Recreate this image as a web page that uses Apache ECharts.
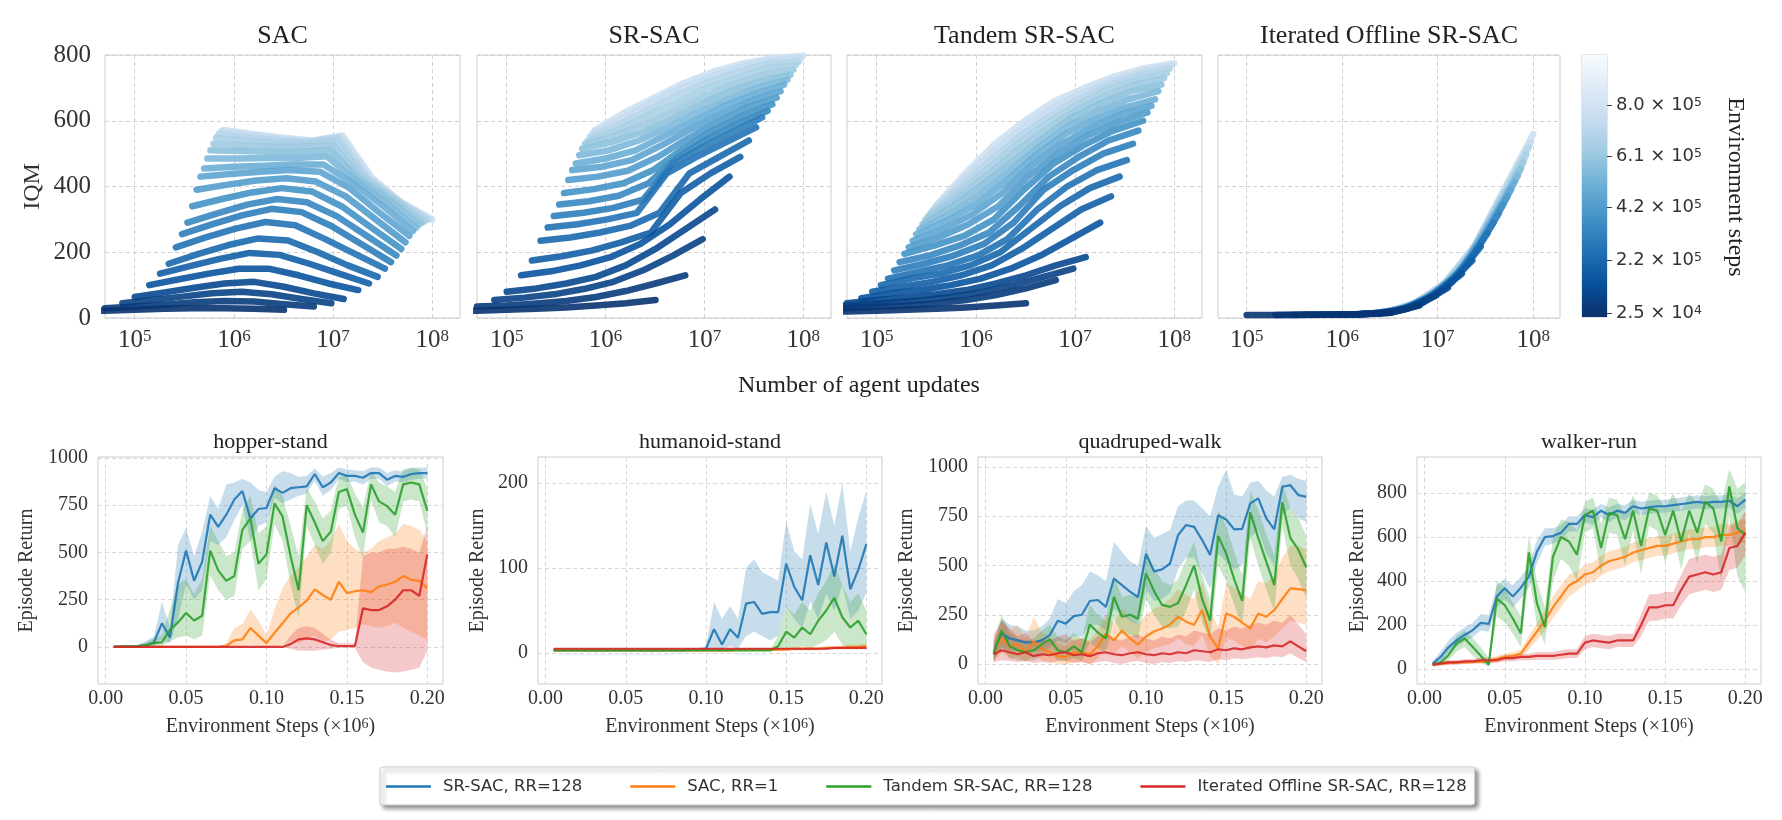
<!DOCTYPE html>
<html><head><meta charset="utf-8">
<script src="https://cdn.jsdelivr.net/npm/echarts@6/dist/echarts.min.js"></script>
<style>html,body{margin:0;padding:0;background:#fff}#c{width:1782px;height:820px}</style>
</head><body><div id="c"></div>
<script>
// ---------------- DATA ----------------
const panelTitles = ['SAC', 'SR-SAC', 'Tandem SR-SAC', 'Iterated Offline SR-SAC'];
const updateTicks = [5, 6, 7, 8];             // log10 of number of agent updates
const envStepLevels = [25000, 50000, 75000, 100000, 140000, 180000, 220000, 260000, 300000, 340000, 380000, 420000, 460000, 500000, 540000, 580000, 620000, 660000, 700000, 740000, 780000];
const rrSAC = [1, 2, 4, 8, 16, 32, 64, 128];
const rrSRSAC = [1, 2, 4, 8, 16, 32, 64, 128];
const rrTandem = [0.5, 1, 2, 4, 8, 16, 32, 64, 128];
const rrIterated = [4, 8, 16, 32, 64, 128];
const colorbarTicks = [25000, 220000, 420000, 610000, 800000];

const iqmSAC = [
  [20, 22, 25, 28, 30, 30, 28, 25],
  [30, 35, 40, 48, 52, 50, 42, 35],
  [45, 55, 65, 75, 80, 72, 58, 45],
  [64, 78, 92, 105, 110, 95, 75, 58],
  [100, 118, 135, 150, 150, 130, 105, 85],
  [135, 158, 180, 198, 192, 165, 135, 105],
  [165, 195, 222, 242, 236, 200, 160, 125],
  [215, 245, 272, 292, 282, 240, 195, 150],
  [255, 285, 312, 332, 322, 280, 225, 170],
  [290, 318, 345, 362, 352, 310, 250, 190],
  [340, 362, 382, 395, 385, 340, 275, 210],
  [390, 405, 418, 425, 415, 370, 300, 230],
  [430, 438, 445, 450, 445, 395, 320, 250],
  [455, 460, 463, 467, 467, 410, 340, 265],
  [485, 485, 487, 487, 492, 415, 350, 275],
  [510, 508, 506, 506, 512, 420, 360, 285],
  [530, 525, 522, 522, 528, 420, 362, 290],
  [548, 540, 533, 532, 542, 425, 360, 295],
  [560, 550, 541, 536, 549, 425, 358, 300],
  [567, 556, 546, 538, 552, 425, 354, 300],
  [572, 560, 548, 540, 555, 425, 350, 300]
];
const iqmSRSAC = [
  [20, 22, 25, 28, 32, 38, 45, 55],
  [35, 38, 44, 52, 64, 82, 105, 130],
  [55, 62, 72, 88, 110, 145, 190, 240],
  [80, 90, 105, 125, 160, 210, 270, 330],
  [130, 142, 160, 185, 225, 285, 360, 430],
  [175, 188, 205, 230, 260, 380, 440, 490],
  [235, 245, 260, 280, 320, 440, 490, 540],
  [275, 285, 300, 320, 440, 490, 535, 580],
  [310, 320, 335, 360, 470, 520, 565, 610],
  [345, 355, 372, 410, 490, 545, 590, 630],
  [380, 392, 410, 450, 515, 570, 615, 650],
  [420, 430, 448, 490, 545, 595, 640, 670],
  [450, 460, 480, 525, 575, 620, 660, 690],
  [470, 485, 510, 555, 600, 645, 680, 710],
  [495, 510, 540, 580, 625, 665, 700, 725],
  [515, 535, 565, 605, 650, 690, 720, 740],
  [530, 555, 590, 630, 675, 710, 740, 755],
  [540, 572, 615, 655, 700, 730, 760, 770],
  [552, 590, 635, 680, 720, 750, 775, 780],
  [562, 608, 655, 700, 735, 765, 785, 790],
  [572, 625, 670, 715, 750, 775, 790, 798]
];
const iqmTandem = [
  [15, 18, 20, 22, 25, 28, 32, 38, 45],
  [25, 30, 34, 38, 45, 55, 70, 90, 115],
  [35, 42, 48, 55, 65, 80, 100, 125, 150],
  [45, 55, 62, 72, 85, 105, 130, 160, 185],
  [60, 75, 85, 100, 120, 150, 190, 240, 290],
  [80, 95, 110, 130, 160, 210, 270, 330, 370],
  [100, 120, 135, 160, 200, 270, 340, 395, 430],
  [120, 140, 160, 190, 240, 330, 400, 450, 480],
  [145, 165, 190, 225, 290, 390, 450, 500, 530],
  [170, 190, 220, 260, 340, 430, 490, 540, 570],
  [195, 220, 250, 300, 390, 470, 525, 570, 600],
  [215, 245, 285, 340, 430, 500, 555, 595, 625],
  [235, 270, 315, 380, 465, 530, 580, 620, 645],
  [255, 295, 345, 415, 495, 560, 605, 640, 665],
  [270, 315, 375, 445, 520, 585, 630, 665, 690],
  [285, 340, 405, 475, 545, 610, 655, 690, 710],
  [300, 360, 430, 505, 570, 630, 675, 710, 730],
  [310, 380, 455, 530, 595, 650, 695, 725, 745],
  [320, 400, 480, 555, 615, 668, 710, 740, 758],
  [330, 420, 505, 578, 638, 685, 722, 750, 768],
  [340, 440, 530, 600, 660, 700, 735, 760, 775]
];
const iqmIterated = [
  [9, 9, 10, 10, 12, 16],
  [9, 10, 10, 12, 16, 38],
  [9, 10, 11, 14, 28, 68],
  [10, 10, 12, 16, 40, 92],
  [10, 11, 13, 26, 66, 135],
  [10, 11, 16, 37, 87, 175],
  [10, 12, 19, 49, 108, 217],
  [10, 13, 24, 65, 131, 258],
  [11, 15, 30, 74, 154, 290],
  [11, 16, 35, 85, 173, 318],
  [12, 17, 42, 98, 196, 346],
  [12, 19, 48, 109, 216, 369],
  [13, 22, 55, 121, 241, 391],
  [14, 25, 64, 133, 267, 414],
  [14, 27, 71, 143, 285, 433],
  [15, 31, 77, 153, 304, 454],
  [15, 35, 84, 172, 323, 475],
  [16, 38, 91, 186, 342, 496],
  [17, 44, 99, 201, 361, 519],
  [19, 46, 106, 213, 375, 536],
  [20, 50, 113, 226, 395, 560]
];

// bottom row
const envSteps = [0.005,0.01,0.015,0.02,0.025,0.03,0.035,0.04,0.045,0.05,0.055,0.06,0.065,0.07,0.075,0.08,0.085,0.09,0.095,0.1,0.105,0.11,0.115,0.12,0.125,0.13,0.135,0.14,0.145,0.15,0.155,0.16,0.165,0.17,0.175,0.18,0.185,0.19,0.195,0.2];
const stepTicks = [0, 0.05, 0.1, 0.15, 0.2];
const methodNames = ['SR-SAC, RR=128', 'SAC, RR=1', 'Tandem SR-SAC, RR=128', 'Iterated Offline SR-SAC, RR=128'];
const methodColors = ['#1f77b4', '#ff7f0e', '#2ca02c', '#d62728'];

const hopperSR     = [2,3,3,4,8,25,125,50,340,510, 350,450,700,635,700,780,825,680,730,735, 840,815,840,845,850,915,845,870,920,905, 905,895,920,920,885,905,900,915,920,920];
const hopperSRLo   = [0,0,0,0,0,5,40,20,150,330, 250,300,560,540,580,670,750,560,640,660, 790,760,780,800,810,880,800,830,890,870, 875,860,890,890,850,875,870,885,890,890];
const hopperSRHi   = [5,5,5,8,30,55,240,100,540,630, 480,610,800,730,860,870,890,870,830,820, 900,930,920,900,905,945,900,920,950,940, 935,930,950,950,920,935,930,945,950,950];
const hopperSAC    = [0,0,0,0,0,0,0,0,0,0, 0,0,0,0,5,35,40,100,60,20, 75,125,178,210,245,305,275,250,345,285, 295,300,290,320,330,345,375,355,350,310];
const hopperSACLo  = [0,0,0,0,0,0,0,0,0,0, 0,0,0,0,0,0,0,10,0,-10, 0,10,30,20,40,60,30,40,80,90, 100,120,110,100,110,130,100,80,60,40];
const hopperSACHi  = [2,2,2,2,2,2,2,2,2,2, 2,2,2,5,20,100,120,200,140,60, 200,310,380,420,480,540,520,560,650,560, 520,500,520,560,580,600,650,640,620,560];
const hopperTan    = [1,2,3,5,10,20,25,90,130,180, 140,165,510,405,350,375,620,680,440,490, 760,690,480,300,750,660,560,610,820,835, 700,605,860,770,745,700,860,870,860,720];
const hopperTanLo  = [0,0,0,0,0,5,5,30,50,60, 40,60,380,300,250,270,520,560,300,360, 650,560,330,150,640,540,440,500,730,750, 580,470,780,660,640,580,770,780,770,600];
const hopperTanHi  = [3,5,6,10,25,45,60,200,330,360, 280,360,640,560,480,500,720,800,600,640, 860,800,640,480,840,770,680,720,900,910, 810,740,930,870,850,820,940,950,940,840];
const hopperIt     = [0,0,0,0,0,0,0,0,0,0, 0,0,0,0,0,0,0,0,0,0, 0,0,15,40,45,40,25,10,5,5, 5,205,195,195,215,250,300,300,270,490];
const hopperItLo   = [0,0,0,0,0,0,0,0,0,0, 0,0,0,0,0,0,0,0,0,0, 0,0,-10,-20,-20,-20,-15,-10,-5,-5, -5,-80,-110,-120,-130,-135,-130,-120,-110,-20];
const hopperItHi   = [2,2,2,2,2,2,2,2,2,2, 2,2,2,2,2,2,2,2,2,2, 2,2,60,100,110,100,70,40,20,20, 20,480,500,500,520,520,530,520,500,640];

const humSR     = [3,3,3,3,3,3,3,3,3,3, 3,3,3,3,3,3,3,4,4,5, 28,10,28,18,58,60,46,48,48,105, 78,62,115,80,130,90,138,75,98,128];
const humSRLo   = [2,2,2,2,2,2,2,2,2,2, 2,2,2,2,2,2,2,2,2,3, 5,4,8,5,20,25,20,15,20,55, 40,30,60,40,70,50,80,40,50,70];
const humSRHi   = [4,4,4,4,4,4,4,4,4,4, 4,4,4,4,4,4,4,6,6,8, 60,40,55,40,100,110,95,90,85,155, 120,110,175,140,190,150,200,120,160,190];
const humSAC    = [3,3,3,3,3,3,3,3,3,3, 3,3,3,3,3,3,3,3,3,3, 3,3,3,4,4,4,4,4,4,4, 5,5,5,5,6,6,6,7,7,8];
const humSACLo  = [2,2,2,2,2,2,2,2,2,2, 2,2,2,2,2,2,2,2,2,2, 2,2,2,3,3,3,3,3,3,3, 3,3,3,3,4,4,4,4,4,5];
const humSACHi  = [4,4,4,4,4,4,4,4,4,4, 4,4,4,4,4,4,4,4,4,4, 4,4,4,5,5,5,5,6,6,6, 7,7,7,7,8,8,9,10,10,11];
const humTan    = [3,3,3,3,3,3,3,3,3,3, 3,3,3,3,3,3,3,3,3,3, 3,3,3,3,3,3,3,3,8,25, 18,30,22,38,50,65,42,30,38,22];
const humTanLo  = [2,2,2,2,2,2,2,2,2,2, 2,2,2,2,2,2,2,2,2,2, 2,2,2,2,2,2,2,2,3,5, 4,8,5,10,15,25,10,5,8,4];
const humTanHi  = [4,4,4,4,4,4,4,4,4,4, 4,4,4,4,4,4,4,4,4,4, 4,4,4,4,4,4,4,4,20,55, 45,60,50,70,85,105,80,60,70,50];
const humIt     = [5,5,5,5,5,5,5,5,5,5, 5,5,5,5,5,5,5,5,5,5, 5,5,5,5,5,5,5,5,5,5, 5,5,5,5,5,6,6,6,6,6];
const humItLo   = [4,4,4,4,4,4,4,4,4,4, 4,4,4,4,4,4,4,4,4,4, 4,4,4,4,4,4,4,4,4,4, 4,4,4,4,4,5,5,5,5,5];
const humItHi   = [6,6,6,6,6,6,6,6,6,6, 6,6,6,6,6,6,6,6,6,6, 6,6,6,6,6,6,6,6,6,6, 6,6,6,6,6,7,7,7,7,7];

const quadSR     = [60,155,130,120,110,110,120,147,220,205, 243,250,320,325,290,434,400,367,340,558, 470,480,510,654,705,696,629,553,755,733, 683,686,815,840,739,683,899,907,857,848];
const quadSRLo   = [20,80,70,70,60,60,70,80,120,110, 140,140,200,200,170,280,250,220,200,380, 320,330,360,480,540,540,460,380,560,520, 480,500,640,680,560,500,760,790,740,720];
const quadSRHi   = [100,230,200,190,170,170,190,230,330,310, 370,400,470,450,420,620,570,520,500,700, 640,660,680,800,830,830,790,750,900,985, 860,850,920,930,880,850,950,960,940,930];
const quadSAC    = [60,130,90,100,60,115,75,60,40,35, 60,60,50,90,155,120,170,130,100,140, 165,180,200,240,215,198,274,139,80,257, 240,210,181,257,240,274,330,384,380,375];
const quadSACLo  = [10,60,30,40,10,50,20,10,0,-5, 10,10,0,30,80,50,90,60,30,60, 80,90,100,130,100,90,150,40,0,130, 120,90,70,130,110,140,180,220,210,200];
const quadSACHi  = [120,220,170,200,130,240,160,140,100,90, 130,130,120,170,250,210,280,230,200,250, 280,300,330,380,350,330,420,270,190,410, 390,360,330,420,410,450,540,600,600,580];
const quadTan    = [50,170,90,70,60,70,100,125,70,60, 90,60,200,160,130,340,240,250,230,460, 370,300,290,310,400,500,330,220,650,560, 430,320,770,640,520,400,820,640,580,490];
const quadTanLo  = [10,90,30,20,15,20,40,60,20,15, 30,15,110,80,60,230,150,150,130,330, 250,190,180,190,270,380,210,120,500,420, 300,190,640,500,380,270,700,500,430,330];
const quadTanHi  = [110,250,160,130,120,130,170,200,140,120, 160,130,300,250,220,450,340,350,340,580, 490,420,400,430,530,620,450,330,780,700, 570,450,880,780,660,550,920,790,740,650];
const quadIt     = [50,70,60,50,60,40,50,45,55,60, 45,50,40,55,60,50,45,55,60,50, 45,55,50,60,55,70,65,60,75,70, 80,75,85,90,85,95,90,115,90,65];
const quadItLo   = [10,20,15,10,15,5,10,5,15,15, 5,10,0,10,15,5,0,10,15,5, 0,10,5,15,10,20,15,10,25,20, 30,25,30,35,30,40,35,55,30,10];
const quadItHi   = [150,220,180,140,160,110,130,120,140,150, 120,130,110,140,150,130,120,140,150,130, 120,140,130,150,140,170,160,150,180,170, 190,180,200,210,200,220,210,250,200,150];

const walkSR     = [25,55,100,130,155,177,210,205,330,367, 330,370,420,533,600,605,620,660,660,700, 690,720,700,720,710,740,730,735,740,740, 745,750,755,760,755,760,760,765,740,770];
const walkSRLo   = [15,35,75,100,125,145,175,170,280,320, 280,320,370,480,560,570,585,625,625,670, 655,690,665,690,675,710,700,705,710,710, 715,720,725,730,725,730,730,735,705,735];
const walkSRHi   = [35,80,130,165,190,210,250,245,380,410, 380,420,470,585,640,640,655,695,695,730, 725,750,735,750,745,770,760,765,770,770, 775,780,785,790,785,790,790,795,775,805];
const walkSAC    = [20,25,28,30,30,32,33,35,45,55, 60,70,120,170,220,280,330,380,400,430, 440,470,490,500,510,530,540,550,560,560, 570,580,590,590,600,600,610,610,620,630];
const walkSACLo  = [15,18,20,22,22,24,25,26,32,40, 45,50,90,130,175,230,280,330,355,385, 395,425,445,455,465,485,495,505,515,515, 525,535,545,545,555,555,560,560,570,575];
const walkSACHi  = [25,32,36,38,38,40,42,45,60,70, 78,90,150,210,265,330,380,430,445,475, 485,515,535,545,555,575,585,595,605,605, 615,625,635,635,645,645,660,660,670,685];
const walkTan    = [20,30,64,117,139,100,60,20,320,290, 230,162,530,300,190,510,600,580,520,700, 720,550,710,700,590,720,560,730,720,610, 720,580,720,620,760,730,580,830,640,610];
const walkTanLo  = [15,20,40,80,100,60,30,10,240,210, 160,100,430,200,110,400,500,470,400,620, 640,430,620,610,470,630,430,650,630,480, 620,450,620,480,660,620,400,700,420,350];
const walkTanHi  = [25,45,90,150,175,140,100,50,400,370, 300,240,610,400,280,600,680,670,630,760, 780,660,780,770,700,790,690,800,790,730, 800,720,800,750,840,820,750,910,820,850];
const walkIt     = [20,25,30,30,35,35,40,40,40,50, 50,55,55,60,60,60,65,70,70,120, 130,125,120,130,130,130,200,280,280,290, 290,360,420,430,440,430,440,550,560,620];
const walkItLo   = [10,15,20,20,25,25,28,28,28,35, 35,40,40,42,42,42,45,50,50,90, 100,95,90,100,100,100,150,220,220,230, 230,290,340,350,360,350,360,450,460,520];
const walkItHi   = [30,35,40,40,45,45,52,52,52,65, 65,70,70,78,78,78,85,90,90,150, 160,155,150,160,160,160,250,340,340,350, 350,430,500,510,520,510,520,650,660,720];

// ---------------- CHART ----------------
const SERIF = "'Liberation Serif','DejaVu Serif',serif";
const SANS = "'DejaVu Sans','Liberation Sans',sans-serif";
const TXT = '#333333';

const bluesStops = ['#f7fbff','#deebf7','#c6dbef','#9ecae1','#6baed6','#4292c6','#2171b5','#08519c','#08306b'];
function hexToRgb(h){return [parseInt(h.slice(1,3),16),parseInt(h.slice(3,5),16),parseInt(h.slice(5,7),16)];}
function blues(u){ // u: 0 light .. 1 dark
  u = Math.max(0, Math.min(1, u));
  const p = u * (bluesStops.length - 1), i = Math.min(Math.floor(p), bluesStops.length - 2), f = p - i;
  const a = hexToRgb(bluesStops[i]), b = hexToRgb(bluesStops[i+1]);
  return 'rgb(' + a.map((v,k)=>Math.round(v + (b[k]-v)*f)).join(',') + ')';
}
const CB_MIN = 10000, CB_MAX = 986000;

const topGrids = [
  {left:105, width:355}, {left:477, width:354}, {left:847, width:355}, {left:1218, width:342}
];
const topData = [
  {rows: iqmSAC, rr: rrSAC}, {rows: iqmSRSAC, rr: rrSRSAC},
  {rows: iqmTandem, rr: rrTandem}, {rows: iqmIterated, rr: rrIterated}
];
const bottomPanels = [
  {title:'hopper-stand', left:98, width:345, yMin:-196, yMax:1005, yTicks:[0,250,500,750,1000], nameGap:61,
   s:[[hopperSR,hopperSRLo,hopperSRHi],[hopperSAC,hopperSACLo,hopperSACHi],[hopperTan,hopperTanLo,hopperTanHi],[hopperIt,hopperItLo,hopperItHi]]},
  {title:'humanoid-stand', left:538, width:344, yMin:-36.5, yMax:230.6, yTicks:[0,100,200], nameGap:50,
   s:[[humSR,humSRLo,humSRHi],[humSAC,humSACLo,humSACHi],[humTan,humTanLo,humTanHi],[humIt,humItLo,humItHi]]},
  {title:'quadruped-walk', left:978, width:344, yMin:-101, yMax:1050, yTicks:[0,250,500,750,1000], nameGap:61,
   s:[[quadSR,quadSRLo,quadSRHi],[quadSAC,quadSACLo,quadSACHi],[quadTan,quadTanLo,quadTanHi],[quadIt,quadItLo,quadItHi]]},
  {title:'walker-run', left:1417, width:344, yMin:-68, yMax:964, yTicks:[0,200,400,600,800], nameGap:49,
   s:[[walkSR,walkSRLo,walkSRHi],[walkSAC,walkSACLo,walkSACHi],[walkTan,walkTanLo,walkTanHi],[walkIt,walkItLo,walkItHi]]}
];

const grid = [], xAxis = [], yAxis = [], series = [], graphic = [];
const dashed = (c) => ({show:true, lineStyle:{type:[4,3], color:c, width:1}});

// top row
topGrids.forEach((g, p) => {
  grid.push({left:g.left, top:55, width:g.width, height:263, show:true, borderColor:'#cccccc', borderWidth:1, backgroundColor:'#fff'});
  xAxis.push({type:'value', gridIndex:p, min:4.7, max:8.28,
    axisLine:{show:false}, axisTick:{show:false, customValues:updateTicks},
    axisLabel:{customValues:updateTicks, margin:10, formatter:(v)=>'{b|10}{s|' + Math.round(v) + '}',
      rich:{b:{fontSize:25, fontFamily:SERIF, color:TXT}, s:{fontSize:17, fontFamily:SERIF, color:TXT, verticalAlign:'top'}}},
    splitLine:dashed('#d0d0d0')});
  yAxis.push({type:'value', gridIndex:p, min:0, max:800, interval:200,
    axisLine:{show:false}, axisTick:{show:false},
    axisLabel:{show:p===0, fontSize:25, fontFamily:SERIF, color:TXT, margin:14, formatter:(v)=>String(v)},
    splitLine:dashed('#d0d0d0'),
    name: p===0 ? 'IQM' : '', nameLocation:'middle', nameGap:60, nameRotate:90,
    nameTextStyle:{fontSize:24, fontFamily:SERIF, color:TXT}});
  graphic.push({type:'text', x:g.left + g.width/2, y:36, style:{text:panelTitles[p], font:'26px ' + SERIF, fill:'#222', textAlign:'center', textVerticalAlign:'middle'}});
  const d = topData[p];
  for (let j = d.rows.length - 1; j >= 0; j--) {
    const s = envStepLevels[j];
    const u = 1 - (s - CB_MIN) / (CB_MAX - CB_MIN);
    series.push({type:'line', xAxisIndex:p, yAxisIndex:p, silent:true, symbol:'none', showSymbol:false, clip:true,
      lineStyle:{width:6.5, color:blues(u), opacity:0.9, cap:'round', join:'round'},
      data: d.rr.map((r, k) => [Math.log10(s * r), d.rows[j][k]])});
  }
});

// colorbar
grid.push({left:1582, top:55, width:25, height:262, show:true, borderColor:'#cccccc', borderWidth:1});
xAxis.push({type:'category', gridIndex:4, data:['c'], show:false});
yAxis.push({type:'value', gridIndex:4, position:'right', min:CB_MIN, max:CB_MAX,
  axisLine:{show:false}, splitLine:{show:false},
  axisTick:{show:true, customValues:colorbarTicks, length:5, lineStyle:{color:'#444'}},
  axisLabel:{customValues:colorbarTicks, margin:9, formatter:(v)=>{const e=Math.floor(Math.log10(v)); const m=(v/Math.pow(10,e)).toFixed(1); return '{a|' + m + ' × 10}{s|' + e + '}';},
    rich:{a:{fontSize:18, fontFamily:SANS, color:TXT}, s:{fontSize:12.5, fontFamily:SANS, color:TXT, verticalAlign:'top'}}}});
series.push({type:'bar', xAxisIndex:4, yAxisIndex:4, silent:true, barWidth:'100%', data:[CB_MAX],
  itemStyle:{color:new echarts.graphic.LinearGradient(0,0,0,1, bluesStops.map((c,i)=>({offset:i/(bluesStops.length-1), color:c})))}});
graphic.push({type:'text', x:1735, y:187, rotation:-Math.PI/2, style:{text:'Environment steps', font:'24px ' + SERIF, fill:'#222', textAlign:'center', textVerticalAlign:'middle'}});
graphic.push({type:'text', x:859, y:386, style:{text:'Number of agent updates', font:'24px ' + SERIF, fill:'#222', textAlign:'center', textVerticalAlign:'middle'}});

// bottom row
bottomPanels.forEach((bp, q) => {
  const gi = 5 + q;
  grid.push({left:bp.left, top:457, width:bp.width, height:227, show:true, borderColor:'#cccccc', borderWidth:1});
  xAxis.push({type:'value', gridIndex:gi, min:-0.00475, max:0.20975,
    axisLine:{show:false}, axisTick:{show:false, customValues:stepTicks},
    axisLabel:{customValues:stepTicks, margin:5, fontSize:20, fontFamily:SERIF, color:TXT, formatter:(v)=>v.toFixed(2)},
    splitLine:dashed('#d8d8d8'),
    name:'{a|Environment Steps (×10}{s|6}{a|)}', nameLocation:'middle', nameGap:33,
    nameTextStyle:{rich:{a:{fontSize:20, fontFamily:SERIF, color:TXT}, s:{fontSize:14, fontFamily:SERIF, color:TXT, verticalAlign:'top'}}}});
  yAxis.push({type:'value', gridIndex:gi, min:bp.yMin, max:bp.yMax,
    axisLine:{show:false}, axisTick:{show:false, customValues:bp.yTicks},
    axisLabel:{customValues:bp.yTicks, margin:10, fontSize:20, fontFamily:SERIF, color:TXT, formatter:(v)=>String(v)},
    splitLine:dashed('#d8d8d8'),
    name:'Episode Return', nameLocation:'middle', nameGap:bp.nameGap, nameRotate:90,
    nameTextStyle:{fontSize:20, fontFamily:SERIF, color:TXT}});
  graphic.push({type:'text', x:bp.left + bp.width/2, y:442, style:{text:bp.title, font:'22px ' + SERIF, fill:'#222', textAlign:'center', textVerticalAlign:'middle'}});
  bp.s.forEach((trip, k) => {
    const mean = trip[0], lo = trip[1], hi = trip[2], col = methodColors[k];
    series.push({type:'custom', name:methodNames[k] + ' band', xAxisIndex:gi, yAxisIndex:gi, silent:true, z:1,
      data: envSteps.map((x, i) => [x, lo[i], hi[i]]), encode:{x:0, y:[1,2]},
      renderItem:(params, api) => {
        if (params.dataIndex !== 0) return null;
        const pts = [];
        for (let i = 0; i < envSteps.length; i++) pts.push(api.coord([envSteps[i], hi[i]]));
        for (let i = envSteps.length - 1; i >= 0; i--) pts.push(api.coord([envSteps[i], lo[i]]));
        return {type:'polygon', shape:{points:pts}, style:{fill:col, opacity:0.25}};
      }});
    series.push({type:'line', name:methodNames[k], xAxisIndex:gi, yAxisIndex:gi, z:3, symbol:'none', showSymbol:false,
      lineStyle:{width:2.2, color:col, opacity:0.9}, itemStyle:{color:col},
      data: envSteps.map((x, i) => [x, mean[i]])});
  });
});

const chart = echarts.init(document.getElementById('c'), null, {renderer:'canvas'});
chart.setOption({
  animation:false,
  backgroundColor:'#ffffff',
  grid, xAxis, yAxis, series, graphic,
  legend:{data:methodNames.map((n)=>({name:n, icon:'rect'})), left:380, top:767, orient:'horizontal', selectedMode:false,
    itemWidth:45, itemHeight:2.5, itemGap:48, padding:[10,8,9,6],
    backgroundColor:'#ffffff', borderColor:'#cccccc', borderWidth:1, borderRadius:3,
    shadowBlur:4, shadowColor:'rgba(0,0,0,0.45)', shadowOffsetX:3, shadowOffsetY:3,
    textStyle:{fontFamily:SANS, fontSize:16.5, color:TXT, padding:[0,0,0,7], lineHeight:19}}
});
</script></body></html>
